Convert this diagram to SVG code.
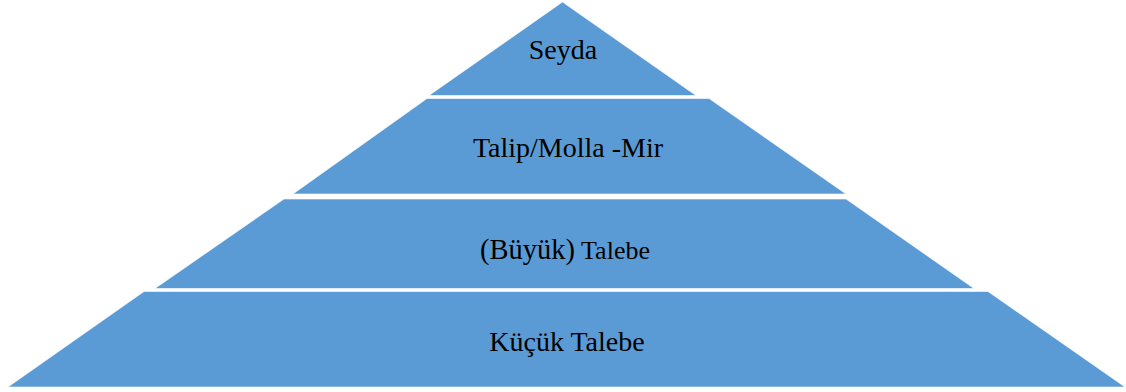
<svg xmlns="http://www.w3.org/2000/svg" width="1126" height="392" viewBox="0 0 1126 392">
  <style>
    .layer { fill: #5B9BD5; stroke: #ffffff; stroke-width: 0.6; }
    .lbl { font-family: "Liberation Serif", "Times New Roman", serif; font-size: 28px; fill: #000000; text-anchor: middle; }
  </style>
  <rect width="1126" height="392" fill="#ffffff"/>
  <g id="level-seyda">
    <polygon class="layer" points="562.5,2 696,95.5 429,95.5"/>
    <text class="lbl" x="563" y="58.5">Seyda</text>
  </g>
  <g id="level-talip">
    <polygon class="layer" points="427,98.5 709,98.5 846,194 293,194"/>
    <text class="lbl" x="568" y="156.5">Talip/Molla -Mir</text>
  </g>
  <g id="level-buyuk-talebe">
    <polygon class="layer" points="284,199 846,199 974,288.5 155,288.5"/>
    <text class="lbl" x="565" y="259"><tspan font-size="28.5px">(Büyük)</tspan><tspan font-size="26px"> Talebe</tspan></text>
  </g>
  <g id="level-kucuk-talebe">
    <polygon class="layer" points="144,291.5 988,291.5 1125,387 8,387"/>
    <text class="lbl" x="567" y="351">Küçük Talebe</text>
  </g>
  <g id="connectors"/>
</svg>
